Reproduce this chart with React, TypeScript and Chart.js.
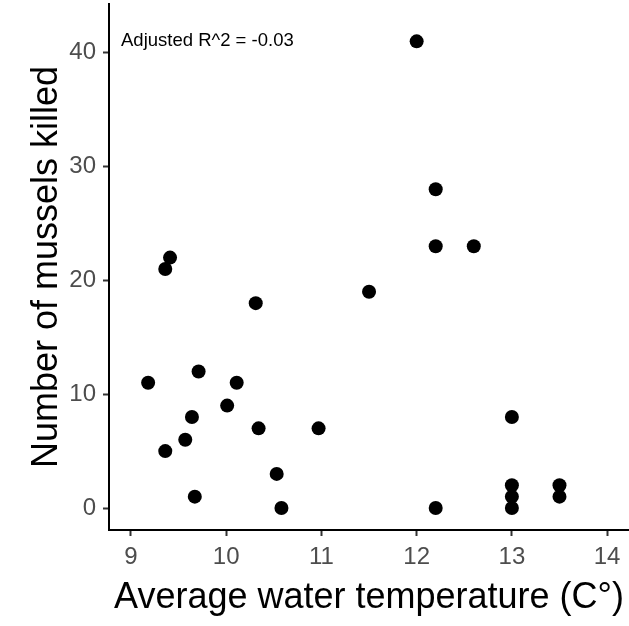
import React, { useEffect, useRef } from "react";
import { Chart, registerables } from "chart.js";

Chart.register(...registerables);

const temperature = [
  9.18, 9.36, 9.41, 9.36, 9.57, 9.64, 9.71, 9.67, 10.01, 10.11, 10.31, 10.34,
  10.53, 10.58, 10.97, 11.5, 12.0, 12.2, 12.2, 12.2, 12.6, 13.0, 13.0, 13.0,
  13.0, 13.5, 13.5,
];
const musselsKilled = [
  11, 21, 22, 5, 6, 8, 12, 1, 9, 11, 18, 7, 3, 0, 7, 19, 41, 28, 23, 0, 23, 8,
  2, 1, 0, 2, 1,
];
const xTicks = [9, 10, 11, 12, 13, 14];
const yTicks = [0, 10, 20, 30, 40];
const annotationText = "Adjusted R^2 = -0.03";

const FONT = "'Liberation Sans', Arial, Helvetica, sans-serif";

function zeroPadding(scale: any) {
  scale.paddingTop = 0;
  scale.paddingBottom = 0;
  scale.paddingLeft = 0;
  scale.paddingRight = 0;
}

export default function App() {
  const canvasRef = useRef<HTMLCanvasElement | null>(null);

  useEffect(() => {
    document.body.style.margin = "0";
    const canvas = canvasRef.current;
    if (!canvas) return;

    const annotationPlugin = {
      id: "annot",
      afterDatasetsDraw(chart: any) {
        const { ctx, chartArea } = chart;
        ctx.save();
        ctx.font = `18.5px ${FONT}`;
        ctx.fillStyle = "#000000";
        ctx.textAlign = "left";
        ctx.textBaseline = "middle";
        ctx.fillText(annotationText, chartArea.left + 12, chartArea.top + 37);
        ctx.restore();
      },
    };

    const chart = new Chart(canvas, {
      type: "scatter",
      data: {
        datasets: [
          {
            data: temperature.map((t, i) => ({ x: t, y: musselsKilled[i] })),
            backgroundColor: "#000000",
            borderColor: "#000000",
            borderWidth: 0,
            pointRadius: 7,
            pointHoverRadius: 7,
          },
        ],
      },
      options: {
        animation: false,
        responsive: false,
        events: [],
        layout: {
          autoPadding: false,
          padding: { top: 4, right: 0, left: 0, bottom: 0 },
        },
        plugins: {
          legend: { display: false },
          tooltip: { enabled: false },
          title: { display: false },
        },
        scales: {
          x: {
            type: "linear",
            min: 8.769,
            max: 14.23,
            afterFit(scale: any) {
              scale.height = 96;
              zeroPadding(scale);
            },
            afterBuildTicks(scale: any) {
              scale.ticks = xTicks.map((v) => ({ value: v }));
            },
            ticks: {
              color: "#4d4d4d",
              font: { family: FONT, size: 24 },
              padding: 7,
              maxRotation: 0,
            },
            grid: {
              display: true,
              drawOnChartArea: false,
              drawTicks: true,
              tickLength: 6,
              tickWidth: 2,
              tickColor: "#333333",
            },
            border: { display: true, color: "#000000", width: 2 },
            title: {
              display: true,
              text: "Average water temperature (C°)",
              color: "#000000",
              font: { family: FONT, size: 36 },
              padding: { top: 0, bottom: 6 },
            },
          },
          y: {
            type: "linear",
            min: -1.93,
            max: 44.28,
            afterFit(scale: any) {
              scale.width = 109;
              zeroPadding(scale);
            },
            afterBuildTicks(scale: any) {
              scale.ticks = yTicks.map((v) => ({ value: v }));
            },
            ticks: {
              color: "#4d4d4d",
              font: { family: FONT, size: 24 },
              padding: 7,
            },
            grid: {
              display: true,
              drawOnChartArea: false,
              drawTicks: true,
              tickLength: 6,
              tickWidth: 2,
              tickColor: "#333333",
            },
            border: { display: true, color: "#000000", width: 2 },
            title: {
              display: true,
              text: "Number of mussels killed",
              color: "#000000",
              font: { family: FONT, size: 36 },
              padding: { top: 25, bottom: 0 },
            },
          },
        },
      },
      plugins: [annotationPlugin],
    });

    return () => chart.destroy();
  }, []);

  return (
    <div style={{ width: 629, height: 626 }}>
      <canvas ref={canvasRef} width={629} height={626} style={{ display: "block" }} />
    </div>
  );
}
